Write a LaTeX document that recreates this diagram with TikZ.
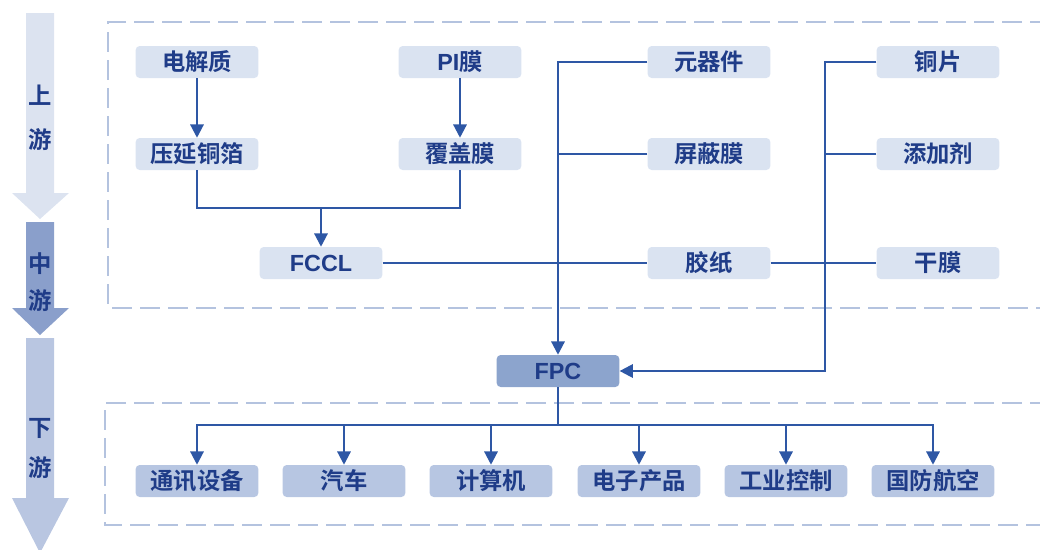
\documentclass[tikz,border=0pt]{standalone}
\usepackage{fontspec}
\newfontfamily\cjk{Noto Sans CJK SC}[BoldFont={Noto Sans CJK SC Bold}]
\newfontfamily\lat{Liberation Sans}
\usetikzlibrary{arrows.meta}
\definecolor{boxfill}{HTML}{DAE3F1}
\definecolor{lowfill}{HTML}{B7C6E2}
\definecolor{fpcfill}{HTML}{8CA4CD}
\definecolor{linec}{HTML}{2E57A5}
\definecolor{txtc}{HTML}{1F3C88}
\definecolor{dashc}{HTML}{B4C3DF}
\definecolor{arrA}{HTML}{DCE3F0}
\definecolor{arrB}{HTML}{8A9FCB}
\definecolor{arrC}{HTML}{B9C6E1}
\tikzset{
  box/.style={rounded corners=3pt, fill=boxfill, minimum width=92pt, minimum height=24pt, inner sep=0pt, text=txtc, font=\cjk\bfseries\fontsize{17.5}{20}\selectfont},
  lowbox/.style={box, fill=lowfill},
  fpcbox/.style={box, fill=fpcfill},
  conn/.style={draw=linec, line width=1.7pt},
  arr/.style={conn, -{Triangle[length=10pt,width=10pt]}},
  dbox/.style={draw=dashc, line width=1.5pt, dash pattern=on 15pt off 6pt},
  stage/.style={text=txtc, font=\cjk\bfseries\fontsize{17.5}{20}\selectfont, inner sep=0pt}
}
\begin{document}
\begin{tikzpicture}[x=0.75pt,y=-0.75pt]
\useasboundingbox (0,0) rectangle (1040,550);
% stage arrows
\fill[arrA] (26,13) -- (54,13) -- (54,193) -- (69,193) -- (40,219) -- (12,193) -- (26,193) -- cycle;
\fill[arrB] (26,222) -- (54,222) -- (54,308) -- (69,308) -- (40,335) -- (12,308) -- (26,308) -- cycle;
\fill[arrC] (26,338) -- (54,338) -- (54,498) -- (69,498) -- (40,553) -- (12,498) -- (26,498) -- cycle;
\node[stage] (s1) at (40,95) {上};
\node[stage] (s2) at (40,140) {游};
\node[stage] (s3) at (40,264) {中};
\node[stage] (s4) at (40,301) {游};
\node[stage] (s5) at (40,428) {下};
\node[stage] (s6) at (40,468) {游};
% dashed frames
\draw[dbox] (1050,22) -- (108,22) -- (108,308) -- (1050,308);
\draw[dbox] (1050,403) -- (105,403) -- (105,525) -- (1050,525);
% upper boxes
\node[box] (djz) at (197,62) {电解质};
\node[box] (yjtb) at (197,154) {压延铜箔};
\node[box] (pim) at (460,62) {{\lat\bfseries PI}膜};
\node[box] (fgm) at (460,154) {覆盖膜};
\node[box] (fccl) at (321,263) {\lat\bfseries FCCL};
\node[box] (yqj) at (709,62) {元器件};
\node[box] (pbm) at (709,154) {屏蔽膜};
\node[box] (jz) at (709,263) {胶纸};
\node[box] (tp) at (938,62) {铜片};
\node[box] (tjj) at (938,154) {添加剂};
\node[box] (gm) at (938,263) {干膜};
\node[fpcbox] (fpc) at (558,371) {\lat\bfseries FPC};
% lower boxes
\node[lowbox] (b1) at (197,481) {通讯设备};
\node[lowbox] (b2) at (344,481) {汽车};
\node[lowbox] (b3) at (491,481) {计算机};
\node[lowbox] (b4) at (639,481) {电子产品};
\node[lowbox] (b5) at (786,481) {工业控制};
\node[lowbox] (b6) at (933,481) {国防航空};
% coordinates
\coordinate (bus1) at (321,208);
\coordinate (rtop) at (825,62);
\coordinate (bb) at (558,425);
% connectors
\draw[arr] (djz) -- (yjtb);
\draw[arr] (pim) -- (fgm);
\draw[conn] (yjtb.south) -- (yjtb.south |- bus1) -| (fgm.south);
\draw[arr] (bus1) -- (fccl.north);
\draw[conn] (fccl.east) -- (jz.west);
\draw[conn] (jz.east) -- (gm.west);
\draw[arr] (yqj.west) -| (fpc.north);
\draw[conn] (pbm.west) -- (pbm.west -| fpc.north);
\draw[arr] (tp.west) -- (rtop) |- (fpc.east);
\draw[conn] (tjj.west) -- (tjj.west -| rtop);
\draw[conn] (fpc.south) -- (bb);
\foreach \b in {b1,b2,b3,b4,b5,b6} {
  \draw[arr] (bb) -| (\b.north);
}
\end{tikzpicture}
\end{document}
